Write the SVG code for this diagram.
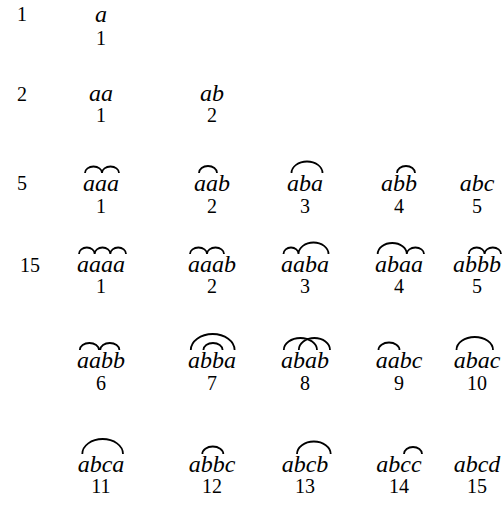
<svg xmlns="http://www.w3.org/2000/svg" width="502" height="525" viewBox="0 0 502 525">
<style>
.w{font-family:"Liberation Serif","Times New Roman",serif;font-style:italic;font-size:24px;text-anchor:middle;fill:#000}
.n{font-family:"Liberation Serif","Times New Roman",serif;font-size:20px;text-anchor:middle;fill:#000}
.arc{fill:none;stroke:#000;stroke-width:1.8}
</style>
<rect width="502" height="525" fill="#fff"/>
<g id="row-labels">
<text class="n" x="22" y="21">1</text>
<text class="n" x="22" y="101">2</text>
<text class="n" x="22" y="190">5</text>
<text class="n" x="30" y="272">15</text>
</g>
<g id="n-a"><text class="w" x="101" y="22">a</text><text class="n" x="101" y="45">1</text></g>
<g id="n-aa"><text class="w" x="101" y="101">aa</text><text class="n" x="101" y="122">1</text></g>
<g id="n-ab"><text class="w" x="212" y="101">ab</text><text class="n" x="212" y="122">2</text></g>

<g id="n-aaa"><text class="w" x="101" y="191">aaa</text><text class="n" x="101" y="213">1</text></g>
<g id="n-aab"><text class="w" x="212" y="191">aab</text><text class="n" x="212" y="213">2</text></g>
<g id="n-aba"><text class="w" x="305" y="191">aba</text><text class="n" x="305" y="213">3</text></g>
<g id="n-abb"><text class="w" x="399" y="191">abb</text><text class="n" x="399" y="213">4</text></g>
<g id="n-abc"><text class="w" x="477" y="191">abc</text><text class="n" x="477" y="213">5</text></g>

<g id="n-aaaa"><text class="w" x="101" y="272">aaaa</text><text class="n" x="101" y="293">1</text></g>
<g id="n-aaab"><text class="w" x="212" y="272">aaab</text><text class="n" x="212" y="293">2</text></g>
<g id="n-aaba"><text class="w" x="305" y="272">aaba</text><text class="n" x="305" y="293">3</text></g>
<g id="n-abaa"><text class="w" x="399" y="272">abaa</text><text class="n" x="399" y="293">4</text></g>
<g id="n-abbb"><text class="w" x="477" y="272">abbb</text><text class="n" x="477" y="293">5</text></g>

<g id="n-aabb"><text class="w" x="101" y="368">aabb</text><text class="n" x="101" y="390">6</text></g>
<g id="n-abba"><text class="w" x="212" y="368">abba</text><text class="n" x="212" y="390">7</text></g>
<g id="n-abab"><text class="w" x="305" y="368">abab</text><text class="n" x="305" y="390">8</text></g>
<g id="n-aabc"><text class="w" x="399" y="368">aabc</text><text class="n" x="399" y="390">9</text></g>
<g id="n-abac"><text class="w" x="477" y="368">abac</text><text class="n" x="477" y="390">10</text></g>

<g id="n-abca"><text class="w" x="101" y="472">abca</text><text class="n" x="101" y="493">11</text></g>
<g id="n-abbc"><text class="w" x="212" y="472">abbc</text><text class="n" x="212" y="493">12</text></g>
<g id="n-abcb"><text class="w" x="305" y="472">abcb</text><text class="n" x="305" y="493">13</text></g>
<g id="n-abcc"><text class="w" x="399" y="472">abcc</text><text class="n" x="399" y="493">14</text></g>
<g id="n-abcd"><text class="w" x="477" y="472">abcd</text><text class="n" x="477" y="493">15</text></g>

<g id="connectors">
<path class="arc" d="M85 173 A8.5 6.5 0 0 1 102 173 A8.5 6.5 0 0 1 119 173"/>
<path class="arc" d="M199 173 A9 7 0 0 1 217 173"/>
<path class="arc" d="M291.5 173 A15.5 11.5 0 0 1 322.5 173"/>
<path class="arc" d="M397 173 A9 7 0 0 1 415 173"/>

<path class="arc" d="M79 254 A7.83 6.5 0 0 1 94.67 254 A7.83 6.5 0 0 1 110.33 254 A7.83 6.5 0 0 1 126 254"/>
<path class="arc" d="M190 254 A8.5 6.5 0 0 1 207 254 A8.5 6.5 0 0 1 224 254"/>
<path class="arc" d="M283.5 254 A7.5 6.5 0 0 1 298.5 254 A15 11.5 0 0 1 328.5 254"/>
<path class="arc" d="M377.7 254 A14.55 11 0 0 1 406.8 254 A8.6 6.5 0 0 1 424 254"/>
<path class="arc" d="M468.8 254 A7.9 6.5 0 0 1 484.6 254 A8.2 6.5 0 0 1 501 254"/>

<path class="arc" d="M79.8 350 A9.6 7 0 0 1 99 350 M100.2 350 A9.6 7 0 0 1 119.4 350"/>
<path class="arc" d="M190.8 350 A21.9 16 0 0 1 234.6 350 M203.4 350 A9.6 7 0 0 1 222.6 350"/>
<path class="arc" d="M283.8 350 A16.6 12 0 0 1 317 350 M298.8 350 A15.6 12 0 0 1 330 350"/>
<path class="arc" d="M378.5 350 A10.5 7.5 0 0 1 399.5 350"/>
<path class="arc" d="M456.5 350 A18.25 13 0 0 1 493 350"/>

<path class="arc" d="M82.3 454 A20.35 15 0 0 1 123 454"/>
<path class="arc" d="M202.3 454 A10.5 7.5 0 0 1 223.3 454"/>
<path class="arc" d="M297 454 A16.85 12.5 0 0 1 330.7 454"/>
<path class="arc" d="M404 454 A9 7 0 0 1 422 454"/>
</g>
</svg>
